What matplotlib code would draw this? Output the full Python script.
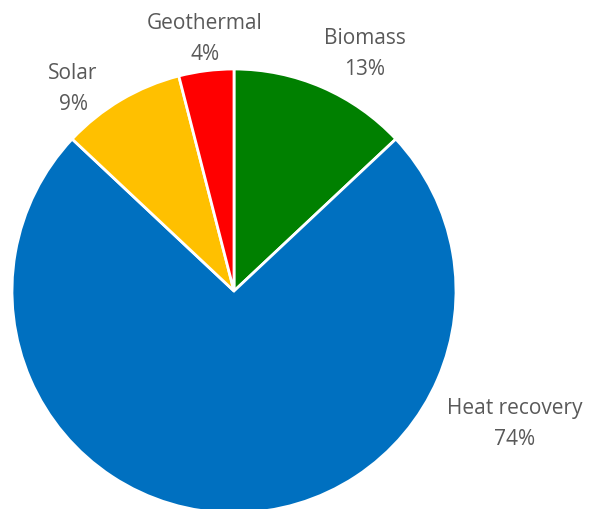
import matplotlib
matplotlib.use("Agg")
import matplotlib.pyplot as plt

categories = ["Biomass", "Heat recovery", "Solar", "Geothermal"]
values = [13, 74, 9, 4]
colors = ["#008000", "#0070C0", "#FFC000", "#FF0000"]

plt.rcParams['font.family'] = ['Open Sans', 'DejaVu Sans']

W, H = 597, 510
fig = plt.figure(figsize=(W / 100, H / 100), dpi=100)
ax = fig.add_axes([0, 0, 1, 1])
cx, cy, r = 234, 292, 222

ax.pie(values, colors=colors, startangle=90, counterclock=False, radius=1,
       wedgeprops=dict(edgecolor='white', linewidth=2))
ax.set_xlim(-cx / r, (W - cx) / r)
ax.set_ylim(-(H - cy) / r, cy / r)
ax.set_aspect('equal')
ax.axis('off')

label_pos = [(365, 54), (515, 424), (73, 89), (205, 39)]
for (name, v, (px, py)) in zip(categories, values, label_pos):
    ax.text((px - cx) / r, (cy - py) / r, f"{name}\n{v}%", ha='center', va='center',
            fontsize=15, color='#595959', linespacing=1.65)

fig.savefig("out.png", dpi=100)
